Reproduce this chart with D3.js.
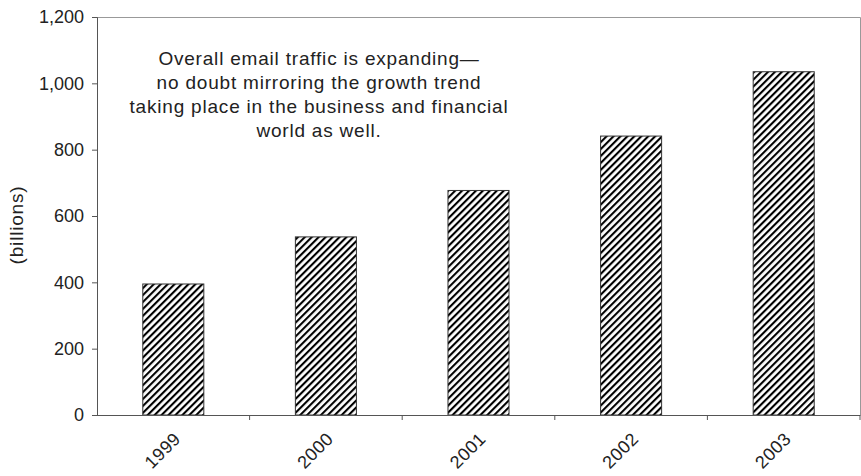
<!DOCTYPE html>
<html>
<head>
<meta charset="utf-8">
<script src="https://cdn.jsdelivr.net/npm/d3@7"></script>
<style>
  html, body { margin: 0; padding: 0; background: #fff; }
  svg { display: block; }
  text { font-family: "Liberation Sans", Arial, Helvetica, sans-serif; fill: #222; }
</style>
</head>
<body>
<svg id="chart" width="861" height="476"></svg>
<script>
const years = ["1999", "2000", "2001", "2002", "2003"];
const traffic = [395, 537, 677, 841, 1035];
const yTicks = [0, 200, 400, 600, 800, 1000, 1200];
const yTitle = "(billions)";
const note = [
  "Overall email traffic is expanding\u2014",
  "no doubt mirroring the growth trend",
  "taking place in the business and financial",
  "world as well."
];

const svg = d3.select("#chart");
const mLeft = 97, mRight = 860, mTop = 17, mBottom = 415;

const x = d3.scaleBand().domain(years).range([mLeft, mRight]).paddingInner(0.6).paddingOuter(0.3);
const xCat = d3.scaleBand().domain(years).range([mLeft, mRight]);
const y = d3.scaleLinear().domain([0, 1200]).range([mBottom, mTop]);

const defs = svg.append("defs");
const pat = defs.append("pattern")
  .attr("id", "hatch")
  .attr("patternUnits", "userSpaceOnUse")
  .attr("width", 4.9).attr("height", 10)
  .attr("patternTransform", "rotate(45)");
pat.append("rect").attr("width", 4.9).attr("height", 10).attr("fill", "#fff");
pat.append("line").attr("x1", 1).attr("x2", 1).attr("y1", 0).attr("y2", 10)
  .attr("stroke", "#000").attr("stroke-width", 2.2);

// frame (top and right)
svg.append("path")
  .attr("d", `M${mLeft},${mTop + 0.5}H${mRight + 0.5}V${mBottom}`)
  .attr("fill", "none").attr("stroke", "#999").attr("stroke-width", 1);

// bars
svg.append("g").selectAll("rect").data(years).join("rect")
  .attr("x", d => x(d))
  .attr("width", x.bandwidth())
  .attr("y", (d, i) => y(traffic[i]))
  .attr("height", (d, i) => mBottom - y(traffic[i]))
  .attr("fill", "url(#hatch)")
  .attr("stroke", "#333").attr("stroke-width", 1);

// y axis
const yAxis = svg.append("g").attr("transform", `translate(${mLeft},0)`)
  .call(d3.axisLeft(y).tickValues(yTicks).tickSize(5).tickPadding(8).tickFormat(d3.format(",")));
yAxis.select(".domain").attr("stroke", "#555");
yAxis.selectAll(".tick line").attr("stroke", "#555");
yAxis.selectAll("text").style("font-size", "18px").attr("fill", "#222");

// x axis: ticks between categories
const xg = svg.append("g");
xg.append("line").attr("x1", mLeft - 5).attr("x2", mRight + 0.5).attr("y1", mBottom + 0.5).attr("y2", mBottom + 0.5)
  .attr("stroke", "#555");
const bounds = years.map(d => xCat(d) + xCat.bandwidth());
xg.selectAll("line.tk").data(bounds).join("line").attr("class", "tk")
  .attr("x1", d => d).attr("x2", d => d)
  .attr("y1", mBottom).attr("y2", mBottom + 5)
  .attr("stroke", "#555");
xg.selectAll("text").data(years).join("text")
  .attr("transform", d => `translate(${xCat(d) + xCat.bandwidth() / 2 + 8.5},${mBottom + 25}) rotate(-45)`)
  .attr("text-anchor", "end")
  .style("font-size", "18px")
  .style("letter-spacing", "0.5px")
  .text(d => d);

// y title
svg.append("text")
  .attr("transform", `translate(22.5,225) rotate(-90)`)
  .attr("text-anchor", "middle")
  .style("font-size", "19px")
  .style("letter-spacing", "0.8px")
  .text(yTitle);

// annotation
svg.append("g").selectAll("text").data(note).join("text")
  .attr("x", 319)
  .attr("y", (d, i) => 65 + i * 24)
  .attr("text-anchor", "middle")
  .style("font-size", "19px")
  .style("letter-spacing", "0.8px")
  .text(d => d);
</script>
</body>
</html>
